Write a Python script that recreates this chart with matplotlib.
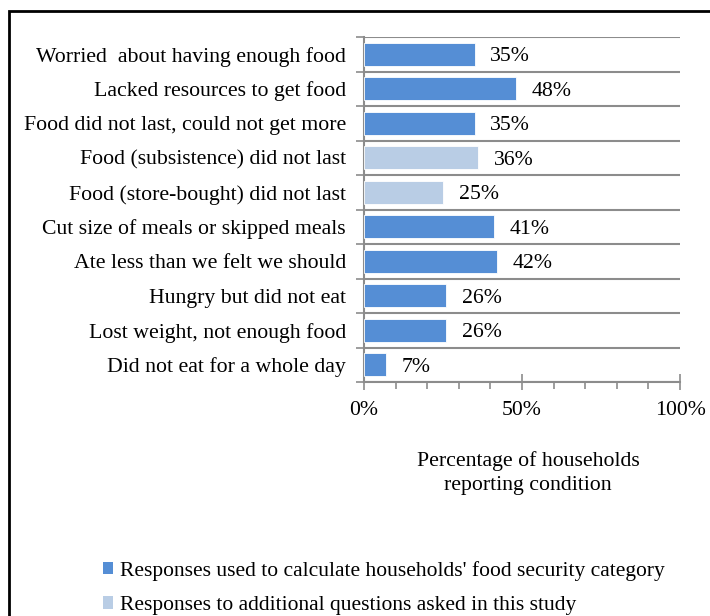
import matplotlib.pyplot as plt
from matplotlib.patches import Patch, Rectangle
from matplotlib.ticker import MultipleLocator, FuncFormatter

# Food insecurity conditions, top to bottom
conditions = [
    "Worried  about having enough food",
    "Lacked resources to get food",
    "Food did not last, could not get more",
    "Food (subsistence) did not last",
    "Food (store-bought) did not last",
    "Cut size of meals or skipped meals",
    "Ate less than we felt we should",
    "Hungry but did not eat",
    "Lost weight, not enough food",
    "Did not eat for a whole day",
]
percent = [35, 48, 35, 36, 25, 41, 42, 26, 26, 7]
# True = used for food security category, False = additional study question
core_item = [True, True, True, False, False, True, True, True, True, True]

DARK = "#558ED5"
LIGHT = "#B9CDE5"
GRID = "#8C8C8C"
FS = 15.7

plt.rcParams['font.family'] = ['Liberation Serif', 'DejaVu Serif']

fig = plt.figure(figsize=(7.1, 6.16), dpi=100)
ax = fig.add_axes([364 / 710, 1 - 382 / 616, 316 / 710, 345 / 616])

ypos = list(range(len(conditions)))
colors = [DARK if c else LIGHT for c in core_item]
ax.barh(ypos, percent, height=0.66, color=colors, edgecolor="white", linewidth=0.6, zorder=3)

for y, v in zip(ypos, percent):
    ax.text(v + 5, y, f"{v}%", va="center_baseline", ha="left", fontsize=FS)

ax.set_xlim(0, 100)
ax.set_ylim(len(conditions) - 0.5, -0.5)

# category boundaries as horizontal gridlines
ax.set_yticks([i - 0.5 for i in range(len(conditions) + 1)], minor=False)
ax.set_yticklabels([])
ax.set_yticks(ypos, minor=True)
ax.set_yticklabels(conditions, minor=True, fontsize=FS)
ax.tick_params(axis="y", which="minor", length=0, pad=13)
ax.tick_params(axis="y", which="major", length=6, color=GRID, width=1.2)
ax.yaxis.grid(True, which="major", color=GRID, linewidth=1.5, zorder=0)

ax.xaxis.set_major_locator(MultipleLocator(50))
ax.xaxis.set_minor_locator(MultipleLocator(10))
ax.xaxis.set_major_formatter(FuncFormatter(lambda v, _: f"{v:.0f}%"))
ax.tick_params(axis="x", which="major", direction="inout", length=12, color=GRID,
               width=1.2, labelsize=FS, pad=7.5)
ax.tick_params(axis="x", which="minor", direction="out", length=5, color=GRID, width=1.2)

for side in ["top", "right"]:
    ax.spines[side].set_visible(False)
for side in ["left", "bottom"]:
    ax.spines[side].set_color(GRID)
    ax.spines[side].set_linewidth(1.5)

fig.text(528 / 710, 1 - 473 / 616, "Percentage of households\nreporting condition",
         ha="center", va="center", fontsize=FS, linespacing=1.4)

handles = [Patch(facecolor=DARK, label="Responses used to calculate households' food security category"),
           Patch(facecolor=LIGHT, label="Responses to additional questions asked in this study")]
fig.legend(handles=handles, loc="upper left", bbox_to_anchor=(94 / 710, 1 - 552 / 616),
           frameon=False, fontsize=15.5, handlelength=0.5, handleheight=0.5,
           handletextpad=0.3, labelspacing=0.72, borderaxespad=0)

# outer frame, open to the right and bottom
fig.add_artist(Rectangle((8.5 / 710, -0.05), 1.1, 1.05 - 10.5 / 616, transform=fig.transFigure,
                         fill=False, edgecolor="black", linewidth=2))

fig.savefig("out.png", dpi=100)
